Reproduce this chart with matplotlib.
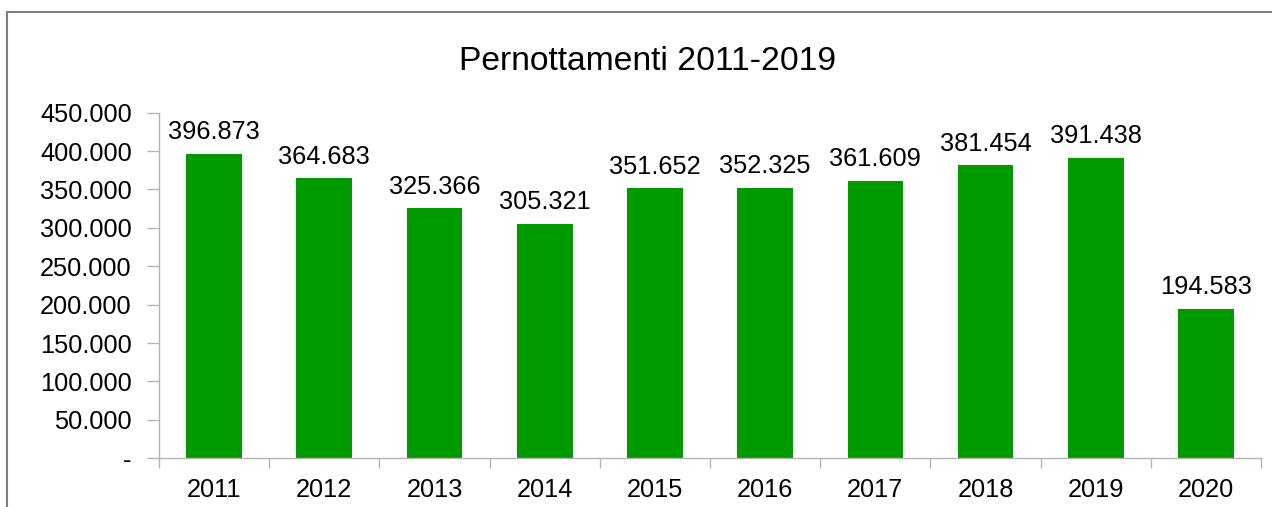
import matplotlib
matplotlib.use("Agg")
import matplotlib.pyplot as plt
from matplotlib.lines import Line2D
from matplotlib.ticker import FuncFormatter, FixedLocator

years = ["2011", "2012", "2013", "2014", "2015", "2016", "2017", "2018", "2019", "2020"]
values = [396873, 364683, 325366, 305321, 351652, 352325, 361609, 381454, 391438, 194583]
yticks = [0, 50000, 100000, 150000, 200000, 250000, 300000, 350000, 400000, 450000]
title = "Pernottamenti 2011-2019"

plt.rcParams['font.family'] = ['Liberation Sans', 'DejaVu Sans']

def fmt(v):
    if v == 0:
        return "-"
    return f"{int(round(v)):,}".replace(",", ".")

fig = plt.figure(figsize=(12.72, 5.07), dpi=100)
ax = fig.add_axes([0.125, 0.0961, 0.8664, 0.6816])

x = list(range(len(years)))
bars = ax.bar(x, values, width=0.505, color="#009900", zorder=2)
for xi, v in zip(x, values):
    ax.annotate(fmt(v), (xi, v), xytext=(0, 7), textcoords="offset points",
                ha="center", va="bottom", fontsize=18.3, color="black")

ax.set_xlim(-0.5, len(years) - 0.5)
ax.set_ylim(0, 450000)
ax.set_yticks(yticks)
ax.yaxis.set_major_formatter(FuncFormatter(lambda v, p: fmt(v)))
ax.set_xticks(x)
ax.set_xticklabels(years)
ax.xaxis.set_minor_locator(FixedLocator([i - 0.5 for i in range(len(years) + 1)]))

for s in ["top", "right"]:
    ax.spines[s].set_visible(False)
for s in ["left", "bottom"]:
    ax.spines[s].set_color("#b3b3b3")
    ax.spines[s].set_linewidth(1.0)

ax.tick_params(axis="y", length=8.6, width=1.0, color="#b3b3b3", pad=11, labelsize=18.3)
ax.tick_params(axis="x", which="major", length=0, pad=14, labelsize=18.3)
ax.tick_params(axis="x", which="minor", length=7.5, width=1.0, color="#b3b3b3")

fig.suptitle(title, y=1 - 62/507, fontsize=24.2, va="center", x=0.509)

# outer chart frame (left and top edges visible)
fig.add_artist(Line2D([7/1272, 7/1272], [0, 1 - 12/507], transform=fig.transFigure, color="#808080", lw=1.5))
fig.add_artist(Line2D([7/1272, 1], [1 - 12/507, 1 - 12/507], transform=fig.transFigure, color="#808080", lw=1.5))

fig.savefig("out.png", dpi=100, facecolor="white")
